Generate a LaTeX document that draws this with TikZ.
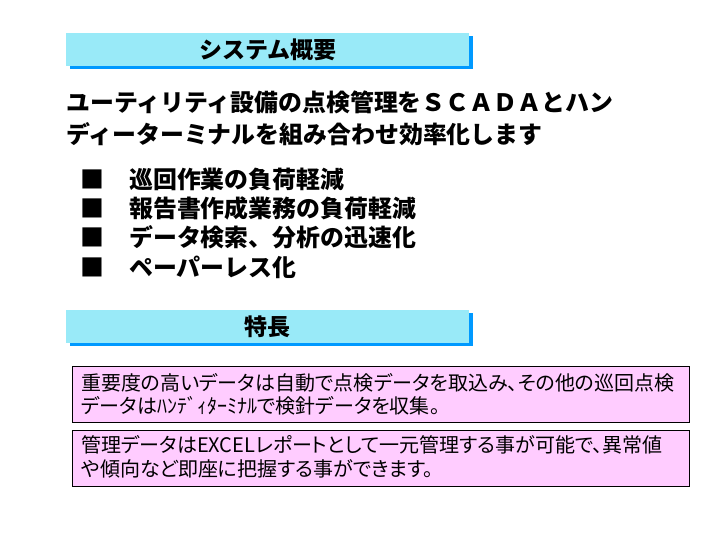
\documentclass[tikz,border=0pt]{standalone}
\usepackage{fontspec}
\newfontfamily\jp{Noto Sans CJK JP}
\newfontfamily\jpp[RawFeature=+palt]{Noto Sans CJK JP}
\definecolor{hdrcyan}{RGB}{153,234,248}
\definecolor{hdrblue}{RGB}{0,153,255}
\definecolor{boxpink}{RGB}{255,204,255}
\tikzset{
  hdrbox/.style={fill=hdrcyan, draw=none, minimum width=403pt, minimum height=33pt, inner sep=0pt, anchor=north west,
    font=\jp\bfseries\fontsize{23pt}{26pt}\selectfont},
  hdrshadow/.style={fill=hdrblue, draw=none, minimum width=403pt, minimum height=33pt, inner sep=0pt, anchor=north west},
  bigtext/.style={anchor=base west, inner sep=0pt, font=\jp\bfseries\fontsize{23.9pt}{29pt}\selectfont},
  bullettext/.style={anchor=base west, inner sep=0pt, font=\jp\bfseries\fontsize{23.9pt}{29pt}\selectfont},
  pinkbox/.style={fill=boxpink, draw=black, line width=0.8pt, minimum width=617pt, minimum height=56pt, inner sep=0pt, anchor=north west},
  boxtext/.style={anchor=base west, inner sep=0pt, font=\jpp\fontsize{20pt}{23pt}\selectfont}
}
\begin{document}
\begin{tikzpicture}[x=1pt,y=-1pt]
\useasboundingbox (0,0) rectangle (720,540);
% header 1
\node[hdrshadow] (h1s) at (70,36) {};
\node[hdrbox] (h1) at (66,33) {システム概要};
% intro text
\node[bigtext] (t1) at (66,112) {ユーティリティ設備の点検管理をＳＣＡＤＡとハン};
\node[bigtext] (t2) at (66,144) {ディーターミナルを組み合わせ効率化します};
% bullets
\node[bullettext] (b1m) at (80,189) {■};
\node[bullettext] (b1) at (129,189) {巡回作業の負荷軽減};
\node[bullettext] (b2m) at (80,218) {■};
\node[bullettext] (b2) at (129,218) {報告書作成業務の負荷軽減};
\node[bullettext] (b3m) at (80,247) {■};
\node[bullettext] (b3) at (129,247) {データ検索、分析の迅速化};
\node[bullettext] (b4m) at (80,276) {■};
\node[bullettext] (b4) at (129,276) {ペーパーレス化};
% header 2
\node[hdrshadow] (h2s) at (70,313) {};
\node[hdrbox] (h2) at (66,310) {特長};
% pink boxes
\node[pinkbox] (p1) at (72,366) {};
\node[boxtext] (p1a) at (81,390) {重要度の高いデータは自動で点検データを取込み、その他の巡回点検};
\node[boxtext] (p1b) at (81,413) {データはﾊﾝﾃﾞｨﾀｰﾐﾅﾙで検針データを収集。};
\node[pinkbox] (p2) at (72,430) {};
\node[boxtext] (p2a) at (81,452) {管理データはEXCELレポートとして一元管理する事が可能で、異常値};
\node[boxtext] (p2b) at (81,476) {や傾向など即座に把握する事ができます。};
\end{tikzpicture}
\end{document}
